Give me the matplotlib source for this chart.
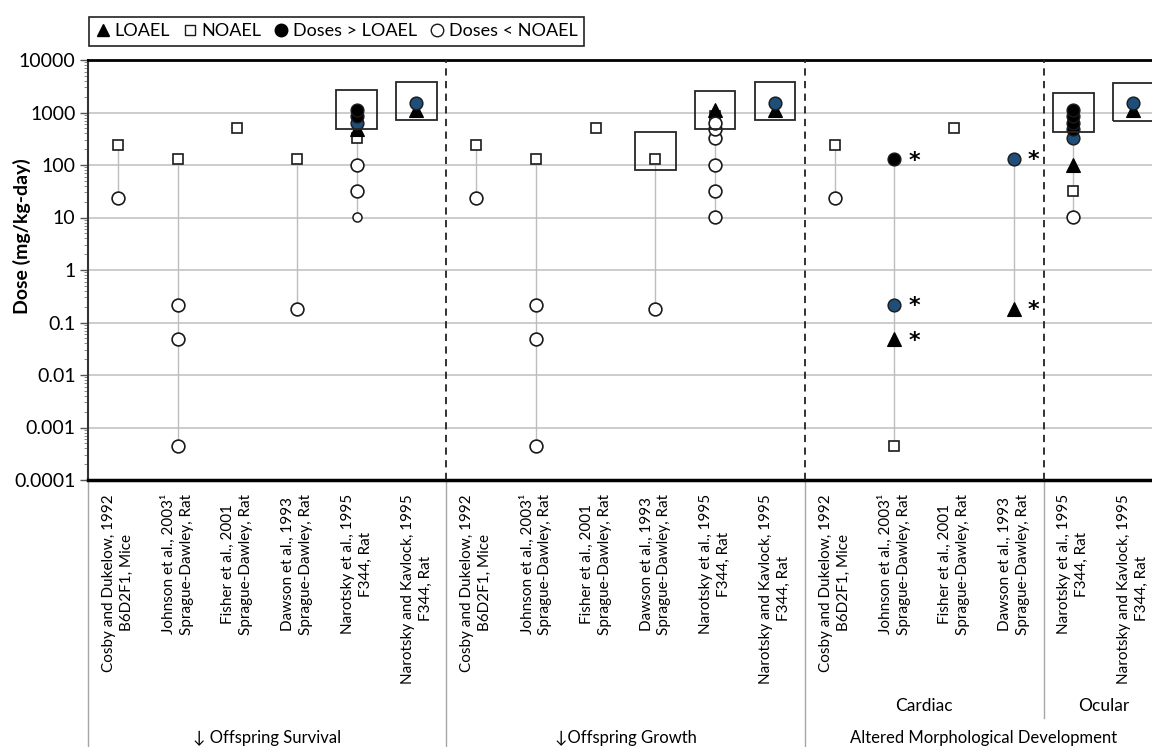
import numpy as np
import matplotlib
matplotlib.use('Agg')
import matplotlib.pyplot as plt
from matplotlib.patches import Rectangle
from matplotlib.lines import Line2D
from matplotlib.ticker import LogLocator, FixedLocator, NullFormatter

plt.rcParams['font.family'] = ['Lato', 'DejaVu Sans']

nan = np.nan

# ---------------- data ----------------
studies = [
    "Cosby and Dukelow, 1992\nB6D2F1, Mice",
    "Johnson et al., 2003¹\nSprague-Dawley, Rat",
    "Fisher et al., 2001\nSprague-Dawley, Rat",
    "Dawson et al., 1993\nSprague-Dawley, Rat",
    "Narotsky et al., 1995\nF344, Rat",
    "Narotsky and Kavlock, 1995\nF344, Rat",
    "Cosby and Dukelow, 1992\nB6D2F1, Mice",
    "Johnson et al., 2003¹\nSprague-Dawley, Rat",
    "Fisher et al., 2001\nSprague-Dawley, Rat",
    "Dawson et al., 1993\nSprague-Dawley, Rat",
    "Narotsky et al., 1995\nF344, Rat",
    "Narotsky and Kavlock, 1995\nF344, Rat",
    "Cosby and Dukelow, 1992\nB6D2F1, Mice",
    "Johnson et al., 2003¹\nSprague-Dawley, Rat",
    "Fisher et al., 2001\nSprague-Dawley, Rat",
    "Dawson et al., 1993\nSprague-Dawley, Rat",
    "Narotsky et al., 1995\nF344, Rat",
    "Narotsky and Kavlock, 1995\nF344, Rat",
]

groups = ["↓ Offspring Survival", "↓Offspring Growth", "Altered Morphological Development"]
group_sizes = [6, 6, 6]
subgroups = ["Cardiac", "Ocular"]
subgroup_sizes = [4, 2]

loael = [nan, nan, nan, nan, 475, 1125,
         nan, nan, nan, nan, 1125, 1125,
         nan, 0.048, nan, 0.18, 101, 1125]
noael = [240, 128.5, 500, 132, 320, nan,
         240, 128.5, 500, 132, 844, nan,
         240, 0.00045, 500, nan, 32, nan]
above_black = [[], [], [], [], [844, 1125], [],
               [], [], [], [], [], [],
               [], [128.5], [], [], [475, 633, 844, 1125], []]
above_blue = [[], [], [], [], [633], [1500],
              [], [], [], [], [], [1500],
              [], [0.218], [], [132], [320], [1500]]
below = [[24], [0.00045, 0.048, 0.218], [], [0.18], [32, 101], [],
         [24], [0.00045, 0.048, 0.218], [], [0.18], [10.1, 32, 101, 320, 475, 633], [],
         [24], [], [], [], [10.1], []]
below_small_col = [4]
below_small_val = [10.1]

star_col = [13, 13, 13, 15, 15]
star_val = [128.5, 0.218, 0.048, 132, 0.18]

box_col = [4, 5, 9, 10, 11, 16, 17]
box_lo = [485, 720, 80, 485, 720, 430, 690]
box_hi = [2685, 3865, 430, 2600, 3865, 2380, 3680]

ytick_vals = [0.0001, 0.001, 0.01, 0.1, 1, 10, 100, 1000, 10000]
ytick_labels = ["0.0001", "0.001", "0.01", "0.1", "1", "10", "100", "1000", "10000"]

# ---------------- figure ----------------
W, H = 1152, 747
fig = plt.figure(figsize=(W / 100, H / 100), dpi=100)
ax_left, ax_right, ax_top, ax_bot = 88, 1163, 60, 480
ax = fig.add_axes([ax_left / W, 1 - ax_bot / H, (ax_right - ax_left) / W, (ax_bot - ax_top) / H])

n = len(studies)
x = np.arange(n)
ax.set_yscale('log')
ax.set_ylim(1e-4, 1e4)
ax.set_xlim(-0.5, n - 0.5)

BLUE = '#1F4E79'
EDGE = '#1a1a1a'
ms_c = 9.2
ms_s = 7.6
ms_t = 9.5

# connector lines
for i in range(n):
    vals = [v for v in [loael[i], noael[i]] if not np.isnan(v)]
    vals += above_black[i] + above_blue[i] + below[i]
    if i in below_small_col:
        vals += [below_small_val[below_small_col.index(i)]]
    if len(vals) > 1:
        ax.plot([x[i], x[i]], [min(vals), max(vals)], color='#bdbdbd', lw=1.0, zorder=2)

# NOAEL squares
ax.plot(x, noael, ls='none', marker='s', ms=ms_s, mfc='white', mec=EDGE, mew=1.2, zorder=4)
# LOAEL triangles
ax.plot(x, loael, ls='none', marker='^', ms=ms_t, mfc='black', mec='black', mew=0.8, zorder=5)
# doses < NOAEL
for i in range(n):
    if below[i]:
        ax.plot([x[i]] * len(below[i]), below[i], ls='none', marker='o', ms=ms_c,
                mfc='white', mec=EDGE, mew=1.2, zorder=5)
for c, v in zip(below_small_col, below_small_val):
    ax.plot([x[c]], [v], ls='none', marker='o', ms=6.5, mfc='white', mec=EDGE, mew=1.1, zorder=5)
# doses > LOAEL
for i in range(n):
    if above_blue[i]:
        ax.plot([x[i]] * len(above_blue[i]), above_blue[i], ls='none', marker='o', ms=ms_c,
                mfc=BLUE, mec=EDGE, mew=1.0, zorder=6)
    if above_black[i]:
        ax.plot([x[i]] * len(above_black[i]), above_black[i], ls='none', marker='o', ms=ms_c,
                mfc='black', mec=EDGE, mew=1.0, zorder=6)

# stars
for c, v in zip(star_col, star_val):
    ax.annotate('*', (x[c], v), xytext=(10, -1), textcoords='offset points',
                ha='left', va='center', fontsize=16, fontweight='bold', zorder=7,
                family='DejaVu Sans')

# highlight boxes
bw = 0.68
for c, lo, hi in zip(box_col, box_lo, box_hi):
    ax.add_patch(Rectangle((x[c] - bw / 2, lo), bw, hi - lo, fill=False,
                           ec='#262626', lw=1.3, zorder=7))

# grid
for v in ytick_vals:
    ax.axhline(v, color='#c8c8c8', lw=1.3, zorder=1)

# group separators (dashed)
bounds = np.cumsum(group_sizes)[:-1]
sub_bounds = [group_sizes[0] + group_sizes[1] + subgroup_sizes[0]]
for b in list(bounds) + sub_bounds:
    ax.axvline(b - 0.5, color='#222222', lw=1.3, ls=(0, (4, 3)), zorder=3)

# axes styling
ax.spines['right'].set_visible(False)
ax.spines['top'].set_linewidth(2.0)
ax.spines['bottom'].set_linewidth(2.5)
ax.spines['left'].set_linewidth(1.5)
ax.spines['left'].set_color('#333333')

ax.yaxis.set_major_locator(FixedLocator(ytick_vals))
ax.set_yticklabels(ytick_labels, fontsize=14)
ax.yaxis.set_minor_locator(LogLocator(base=10, subs=np.arange(2, 10), numticks=50))
ax.yaxis.set_minor_formatter(NullFormatter())
ax.tick_params(axis='y', which='major', length=6, width=1, color='#555555', pad=3)
ax.tick_params(axis='y', which='minor', length=3, width=0.6, color='#777777')
ax.set_ylabel('Dose (mg/kg-day)', fontsize=14, fontweight='bold')
ax.yaxis.set_label_coords(-(ax_left - 31) / (ax_right - ax_left), (ax_bot - 236) / (ax_bot - ax_top))

ax.set_xticks(x)
ax.set_xticklabels(studies, rotation=90, ha='center', va='top', multialignment='center',
                   fontsize=11, linespacing=1.35)
ax.tick_params(axis='x', length=0, pad=10)

# multi-level category separators below the axis
trans = ax.get_xaxis_transform()
y_fig_bottom = -(H - ax_bot) / (ax_bot - ax_top)
y_sub_bottom = -(718 - ax_bot) / (ax_bot - ax_top)
for b in [0] + list(bounds):
    ax.plot([b - 0.5, b - 0.5], [0, y_fig_bottom], transform=trans, color='#a6a6a6',
            lw=1.0, clip_on=False, zorder=0)
for b in sub_bounds:
    ax.plot([b - 0.5, b - 0.5], [0, y_sub_bottom], transform=trans, color='#a6a6a6',
            lw=1.0, clip_on=False, zorder=0)

# group labels
start = 0
y_grp = -(738 - ax_bot) / (ax_bot - ax_top)
for g, s in zip(groups, group_sizes):
    ax.text(start + s / 2 - 0.5, y_grp, g, transform=trans, ha='center', va='center', fontsize=12)
    start += s
start = group_sizes[0] + group_sizes[1]
y_sub = -(706 - ax_bot) / (ax_bot - ax_top)
for g, s in zip(subgroups, subgroup_sizes):
    ax.text(start + s / 2 - 0.5, y_sub, g, transform=trans, ha='center', va='center', fontsize=12.5)
    start += s

# legend
handles = [
    Line2D([], [], ls='none', marker='^', ms=9, mfc='black', mec='black'),
    Line2D([], [], ls='none', marker='s', ms=7, mfc='white', mec=EDGE, mew=1.0),
    Line2D([], [], ls='none', marker='o', ms=9, mfc='black', mec='black'),
    Line2D([], [], ls='none', marker='o', ms=9, mfc='white', mec=EDGE, mew=1.0),
]
leg = fig.legend(handles, ['LOAEL', 'NOAEL', 'Doses > LOAEL', 'Doses < NOAEL'],
                 loc='upper left', bbox_to_anchor=(80 / W, 1 - 8 / H), ncol=4,
                 fontsize=13, handlelength=0.8, handletextpad=0.25, columnspacing=0.7,
                 borderpad=0.35, fancybox=False, framealpha=1, edgecolor='#222222')
leg.get_frame().set_linewidth(1.2)

fig.savefig('out.png', dpi=100)
